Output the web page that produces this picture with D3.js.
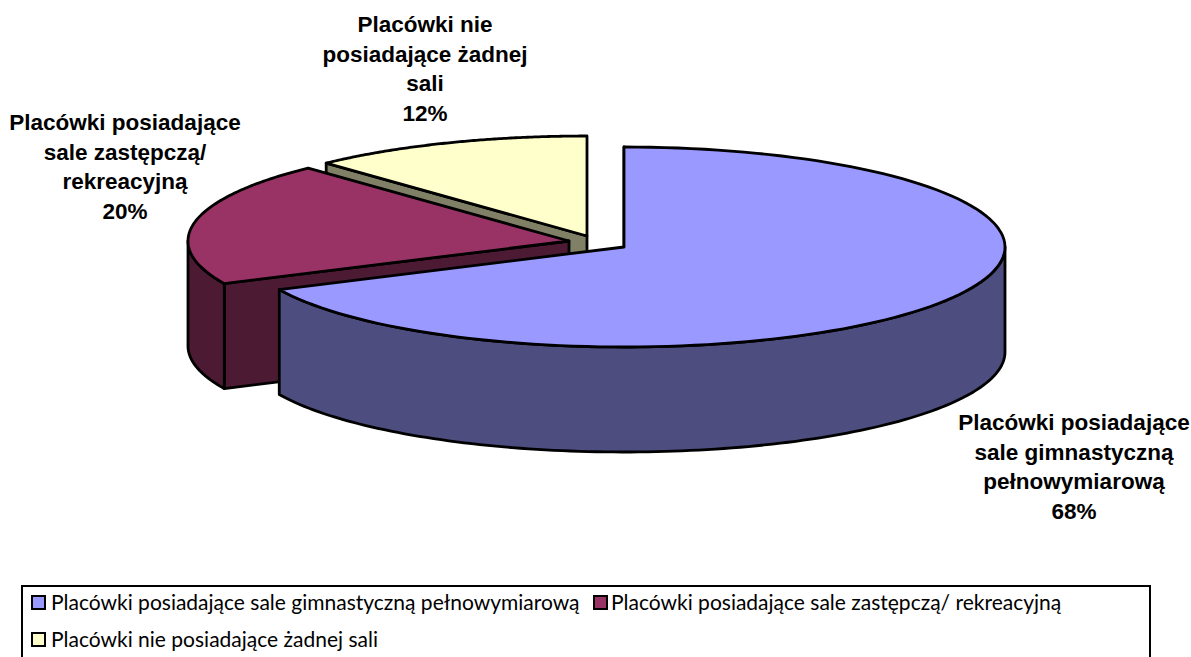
<!DOCTYPE html>
<html>
<head>
	<meta charset="utf-8">
	<title>Placówki</title>
	<style type="text/css">
	html, body { margin:0; padding:0; background:#fff; overflow:hidden; }
	svg { display:block; }
	.lab { font-family:"Liberation Sans", Arial, sans-serif; font-weight:bold; font-size:22.5px; fill:#000; text-anchor:middle; }
	.leg { font-family:Lato, sans-serif; font-size:21px; fill:#000; }
	</style>
</head>
<body>
	<div id="chart"></div>
	<script src="https://d3js.org/d3.v7.min.js"></script>
	<script type="text/javascript">
	// dane
	var categories = ["Placówki posiadające sale gimnastyczną pełnowymiarową",
		"Placówki posiadające sale zastępczą/ rekreacyjną",
		"Placówki nie posiadające żadnej sali"];
	var values = [68, 20, 12];
	var labelLines = [
		["Placówki posiadające", "sale gimnastyczną", "pełnowymiarową", "68%"],
		["Placówki posiadające", "sale zastępczą/", "rekreacyjną", "20%"],
		["Placówki nie", "posiadające żadnej", "sali", "12%"]
	];

	// kolory i uklad
	var topColors = ["#9999ff", "#993366", "#ffffcc"];
	var wallColors = ["#4d4d80", "#4d1a33", "#808066"];
	var centers = [[624, 247], [569, 241], [587, 236]];
	var labelPos = [[1074, 430], [125, 130], [425, 32]];
	var legendPos = [[32, 596], [594, 596], [32, 633]];
	var rx = 381, ry = 100, depth = 105, lineH = 29.5;

	var svg = d3.select("#chart").append("svg")
		.attr("width", 1191)
		.attr("height", 657);

	var arcs = d3.pie().sort(null)(values);
	var line = d3.line();

	// punkt na elipsie dla kata (0 = gora, zgodnie z zegarem)
	function pt(i, a, dy) {
		return [centers[i][0] + rx * Math.sin(a), centers[i][1] - ry * Math.cos(a) + (dy || 0)];
	}
	function curve(i, a0, a1, dy) {
		return d3.range(0, 121).map(function(k) {
			return pt(i, a0 + (a1 - a0) * k / 120, dy);
		});
	}
	function shape(pts, fill) {
		svg.append("path")
			.attr("d", line(pts) + "Z")
			.attr("fill", fill)
			.attr("stroke", "#000")
			.attr("stroke-width", 2.8)
			.attr("stroke-linejoin", "round");
	}

	// rysujemy od tylu do przodu
	[2, 1, 0].forEach(function(i) {
		var a0 = arcs[i].startAngle, a1 = arcs[i].endAngle;
		var c = centers[i];
		var cBottom = [c[0], c[1] + depth];

		// sciana przy promieniu
		shape([c, pt(i, a0), pt(i, a0, depth), cBottom], wallColors[i]);

		// sciana zewnetrzna (tylko przod elipsy)
		var f0 = Math.max(a0, Math.PI / 2), f1 = Math.min(a1, 3 * Math.PI / 2);
		if (f1 > f0) {
			shape(curve(i, f0, f1).concat(curve(i, f1, f0, depth)), wallColors[i]);
		}

		// wierzch
		shape([c].concat(curve(i, a0, a1)), topColors[i]);
	});

	// etykiety
	labelLines.forEach(function(lines, i) {
		svg.selectAll(null)
			.data(lines)
			.enter()
			.append("text")
			.attr("class", "lab")
			.attr("x", labelPos[i][0])
			.attr("y", function(d, k) { return labelPos[i][1] + k * lineH; })
			.text(function(d) { return d; });
	});

	// legenda
	svg.append("rect")
		.attr("x", 22).attr("y", 586)
		.attr("width", 1128).attr("height", 90)
		.attr("fill", "#fff")
		.attr("stroke", "#000")
		.attr("stroke-width", 2);

	categories.forEach(function(name, i) {
		svg.append("rect")
			.attr("x", legendPos[i][0]).attr("y", legendPos[i][1])
			.attr("width", 13).attr("height", 13)
			.attr("fill", topColors[i])
			.attr("stroke", "#000")
			.attr("stroke-width", 2);
		svg.append("text")
			.attr("class", "leg")
			.attr("x", legendPos[i][0] + (i == 1 ? 17 : 19))
			.attr("y", legendPos[i][1] + 14)
			.text(name);
	});
	</script>
</body>
</html>
